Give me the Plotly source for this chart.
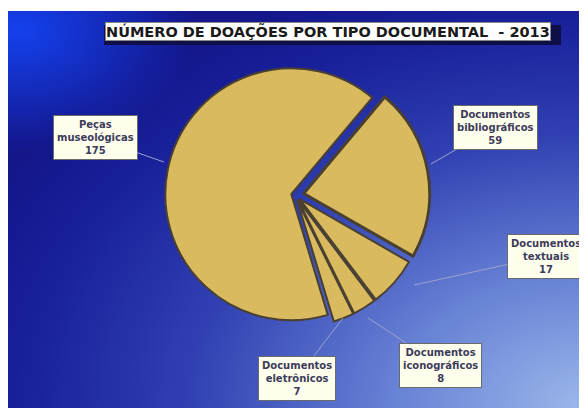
import base64
import plotly.graph_objects as go

# ---- data ----
categories = ["Documentos bibliográficos", "Documentos textuais",
              "Documentos iconográficos", "Documentos eletrônicos",
              "Peças museológicas"]
label_text = ["Documentos<br>bibliográficos", "Documentos<br>textuais",
              "Documentos<br>iconográficos", "Documentos<br>eletrônicos",
              "Peças<br>museológicas"]
values = [59, 17, 8, 7, 175]
title_text = "NÚMERO DE DOAÇÕES POR TIPO DOCUMENTAL  - 2013"

# ---- layout helpers (page has an 8px body margin) ----
BODY = 8
W, H = 587 - BODY, 408 - BODY
ML, MT = 0, 3
OX, OY = BODY + ML, BODY + MT          # screen position of plot area
PW, PH = W - ML, H - MT


def px(x):
    return (x - OX) / PW


def py(y):
    return 1 - (y - OY) / PH


# background gradient (pure styling)
svg = f"""<svg xmlns='http://www.w3.org/2000/svg' width='{PW}' height='{PH}' preserveAspectRatio='none' viewBox='0 0 {PW} {PH}'>
<defs>
<radialGradient id='g' cx='1' cy='1' r='1.15' gradientUnits='objectBoundingBox'>
<stop offset='0' stop-color='#9cb8ea'/>
<stop offset='0.3' stop-color='#6680d4'/>
<stop offset='0.6' stop-color='#3040b2'/>
<stop offset='0.85' stop-color='#18209a'/>
<stop offset='1' stop-color='#14168a'/>
</radialGradient>
<radialGradient id='h' cx='0.02' cy='0.05' r='0.3' gradientUnits='objectBoundingBox'>
<stop offset='0' stop-color='#1448ff' stop-opacity='0.85'/>
<stop offset='1' stop-color='#1448ff' stop-opacity='0'/>
</radialGradient>
</defs>
<rect x='0' y='0' width='{PW}' height='{PH}' fill='url(#g)'/>
<rect x='0' y='0' width='{PW}' height='{PH}' fill='url(#h)'/>
</svg>"""
bg_uri = "data:image/svg+xml;base64," + base64.b64encode(svg.encode()).decode()

# pie geometry (screen pixels)
cx, cy, rad = 295, 195, 126
pulls = [0.07, 0.05, 0.05, 0.05, 0.03]
half = rad * (1 + max(pulls))

fig = go.Figure(go.Pie(
    labels=categories,
    values=values,
    sort=False,
    direction="clockwise",
    rotation=40,
    pull=pulls,
    textinfo="none",
    hoverinfo="label+value",
    marker=dict(colors=["#D9BA5E"] * 5,
                line=dict(color="#4a4030", width=[3, 2, 2, 2, 2])),
    domain=dict(x=[px(cx - half), px(cx + half)],
                y=[py(cy + half), py(cy - half)]),
    showlegend=False,
))

# label boxes: (anchor point on pie, box centre) in screen pixels
label_pos = [
    ((431, 164), (495, 127)),
    ((414, 285), (546, 256)),
    ((368, 318), (440, 365)),
    ((343, 318), (297, 378)),
    ((164, 162), (95, 138)),
]

annotations = []
for txt, v, (pt, box) in zip(label_text, values, label_pos):
    annotations.append(dict(
        x=px(pt[0]), y=py(pt[1]), xref="paper", yref="paper",
        ax=box[0] - pt[0], ay=box[1] - pt[1],
        text=f"<b>{txt}<br>{v}</b>",
        showarrow=True, arrowhead=0, arrowwidth=1, arrowcolor="#9aa4cc",
        standoff=0, startstandoff=0,
        font=dict(family="DejaVu Sans", size=10, color="#3c3c5a"),
        bgcolor="#FFFFEE", bordercolor="#6a6a6a", borderwidth=1, borderpad=3,
        align="center",
    ))

annotations.append(dict(
    x=px(328), y=py(32), xref="paper", yref="paper", showarrow=False,
    xanchor="center", yanchor="middle",
    text=f"<b>{title_text}</b>",
    font=dict(family="DejaVu Sans", size=14.5, color="#1a1a1a"),
    bgcolor="#FFFFFF", bordercolor="#888888", borderwidth=1, borderpad=0,
))

fig.update_layout(
    width=W, height=H,
    margin=dict(l=ML, t=MT, r=0, b=0),
    paper_bgcolor="#FFFFFF",
    plot_bgcolor="rgba(0,0,0,0)",
    images=[dict(source=bg_uri, xref="paper", yref="paper", x=0, y=1,
                 sizex=1, sizey=1, sizing="stretch", xanchor="left",
                 yanchor="top", layer="below")],
    shapes=[dict(type="rect", xref="paper", yref="paper", layer="above",
                 x0=px(104), x1=px(561), y0=py(45), y1=py(25),
                 fillcolor="#0e0e48", line=dict(width=0))],
    annotations=annotations,
)

fig.write_html("out.html")
